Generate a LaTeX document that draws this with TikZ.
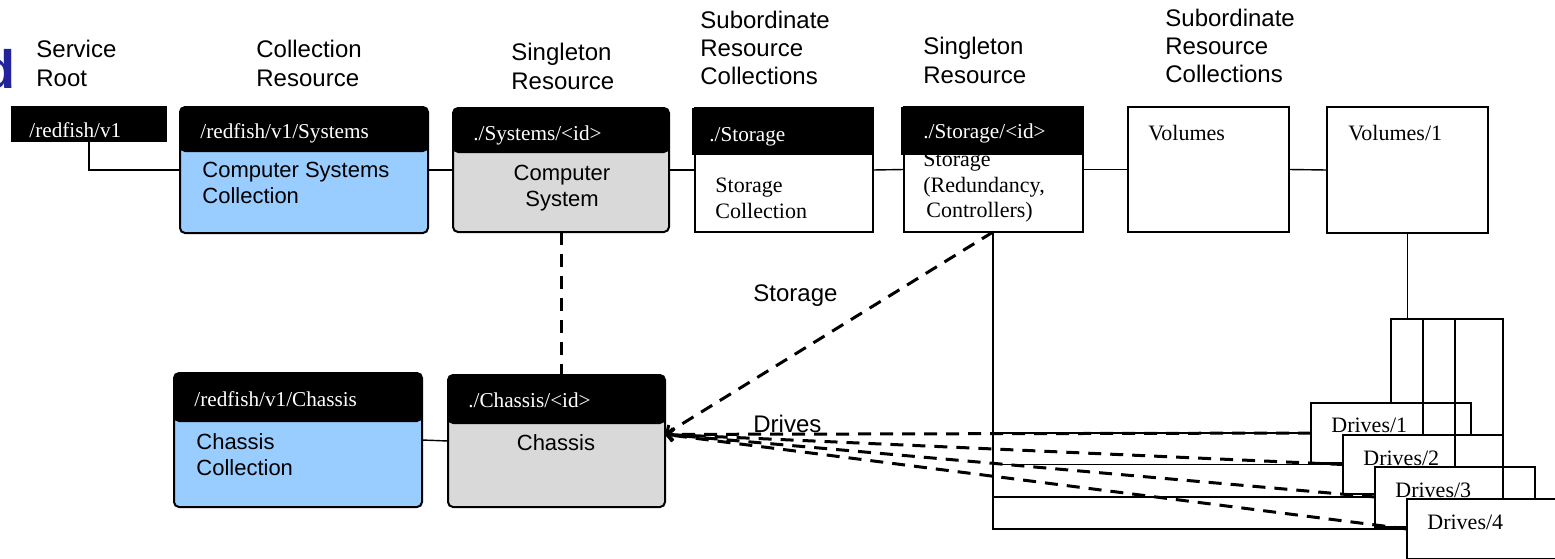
\documentclass[tikz,border=0pt]{standalone}
\usepackage{fontspec}
\setmainfont{Liberation Serif}
\setsansfont{Liberation Sans}
\usetikzlibrary{arrows.meta,calc}
\definecolor{collblue}{RGB}{153,204,255}
\definecolor{singgray}{RGB}{217,217,217}
\definecolor{logoblue}{RGB}{35,35,155}
\begin{document}
\begin{tikzpicture}[x=0.5pt,y=-0.5pt,
  lbl/.style={font=\sffamily\fontsize{12}{14.5}\selectfont, align=left, inner sep=0pt, anchor=north west},
  lbl3/.style={lbl, font=\sffamily\fontsize{12}{14}\selectfont},
  hdrtext/.style={font=\fontsize{10.6}{12}\selectfont, text=white, inner sep=0pt, anchor=north west},
  sbody/.style={font=\sffamily\fontsize{11}{13}\selectfont, align=left, inner sep=0pt, anchor=north west},
  rbody/.style={font=\fontsize{11}{12.7}\selectfont, align=left, inner sep=0pt, anchor=north west},
  boxbase/.style={draw, line width=1pt, anchor=north west, inner sep=0pt, outer sep=0pt},
  rbox/.style={boxbase, rounded corners=2.5pt},
  sbox/.style={boxbase, fill=white},
  hdrbar/.style={path picture={\fill[black] (path picture bounding box.north west) rectangle ([yshift=-#1]path picture bounding box.north east);}},
  link/.style={line width=0.7pt},
  dlink/.style={line width=1.5pt, dash pattern=on 6.5pt off 4.5pt},
  chtip/.style={-{Straight Barb[length=3pt,width=6pt]}}
]
\useasboundingbox (0,0) rectangle (1555,558);
\clip (0,0) rectangle (1555,558);

% logo fragment
\node[font=\sffamily\bfseries\fontsize{27}{27}\selectfont, text=logoblue, anchor=base east, inner sep=0pt] (logo) at (16,88) {d};

% column labels
\node[lbl] (l1) at (36,40) {Service\\Root};
\node[lbl] (l2) at (256,40) {Collection\\Resource};
\node[lbl] (l3) at (511,43) {Singleton\\Resource};
\node[lbl3] (l4) at (700,11) {Subordinate\\Resource\\Collections};
\node[lbl] (l5) at (923,37) {Singleton\\Resource};
\node[lbl3] (l6) at (1165,9) {Subordinate\\Resource\\Collections};

% boxes
\node[fill=black, anchor=north west, inner sep=0pt, outer sep=0pt, minimum width=78pt, minimum height=18pt] (root) at (11,106) {};
\node[rbox, fill=collblue, hdrbar=22.5pt, minimum width=124pt, minimum height=63pt] (sc) at (180,107) {};
\node[rbox, fill=singgray, hdrbar=22.5pt, minimum width=108pt, minimum height=62pt] (cs) at (453,108) {};
\node[sbox, minimum width=89pt, minimum height=62pt] (stc) at (695,108) {};
\fill[black] (692,108) rectangle (873,155);
\node[sbox, minimum width=89.5pt, minimum height=62.5pt] (sid) at (904,107) {};
\node[rbody] (sidtxt) at (923,152) {Storage\\(Redundancy,\\\hspace{1.5pt}Controllers)};
\fill[black] (901,107) rectangle (1083,155);
\node[sbox, minimum width=80.5pt, minimum height=62.5pt] (vol) at (1128,107) {};
\node[sbox, minimum width=80.5pt, minimum height=63pt] (v1) at (1327,107) {};
\node[rbox, fill=collblue, hdrbar=24.5pt, minimum width=124pt, minimum height=67pt] (cc) at (174,373) {};
\node[rbox, fill=singgray, hdrbar=24.5pt, minimum width=108.5pt, minimum height=66pt] (ch) at (448,375) {};

% header texts
\node[hdrtext] (h1) at (29,122) {/redfish/v1};
\node[hdrtext] (h2) at (200,123) {/redfish/v1/Systems};
\node[hdrtext] (h3) at (473,125) {./Systems/<id>};
\node[hdrtext] (h4) at (709,127) {./Storage};
\node[hdrtext] (h5) at (923,123) {./Storage/<id>};
\node[hdrtext] (h6) at (194,391) {/redfish/v1/Chassis};
\node[hdrtext] (h7) at (468,392) {./Chassis/<id>};

% body texts
\node[sbody] (b1) at (202,162) {Computer Systems\\Collection};
\node[sbody, align=center, anchor=north] (b2) at (562,165) {Computer\\System};
\node[rbody] (b3) at (715,178) {Storage\\Collection};
\node[rbody] (b4) at (1148,125) {Volumes};
\node[rbody] (b5) at (1348,125) {Volumes/1};
\node[sbody] (b6) at (196,433) {Chassis\\Collection};
\node[sbody, anchor=north] (b7) at (556,434) {Chassis};

% link labels
\node[lbl] (lst) at (753,284) {Storage};
\node[lbl] (ldr) at (753,415) {Drives};

% drives
\node[sbox, minimum width=80pt, minimum height=30pt] (d1) at (1311,403) {};
\node[rbody] (dt1) at (1331,418) {Drives/1};
\node[sbox, minimum width=80pt, minimum height=29.5pt] (d2) at (1343,435) {};
\node[rbody] (dt2) at (1363,451) {Drives/2};
\node[sbox, minimum width=80pt, minimum height=30pt] (d3) at (1375,467) {};
\node[rbody] (dt3) at (1395,483) {Drives/3};
\node[sbox, minimum width=96pt, minimum height=30pt] (d4) at (1407,499) {};
\node[rbody] (dt4) at (1427,515) {Drives/4};

% solid connectors
\draw[link] (root.south) |- (sc.west);
\draw[link] (sc.east) -- (cs.west);
\draw[link] (cs.east) -- (stc.west);
\draw[link] (stc.east) -- (sid.west);
\draw[link] (sid.east) -- (vol.west);
\draw[link] (vol.east) -- (v1.west);
\draw[link] (cc.east) -- (ch.west);

% storage tree
\coordinate (tap) at (993,232);
\draw[link] (tap) |- (d1.west);
\draw[link] (tap) |- (d2.west);
\draw[link] (tap) |- (d3.west);
\draw[link] (tap) |- (d4.west);

% volume fan
\coordinate (fb) at (v1.south |- 0,319);
\draw[link] (v1.south) -- (fb);
\draw[link] (fb) -| (d1.north);
\draw[link] (fb) -| (d2.north);
\draw[link] (fb) -| (d3.north);
\draw[link] (fb) -| (d4.north);

% dashed links
\draw[dlink] (cs.south) -- (cs.south |- ch.north);
\coordinate (chp) at ($(ch.north east)!0.45!(ch.south east)$);
\draw[dlink, chtip] (tap) -- (chp);
\draw[dlink, chtip] (d1.west) -- (chp);
\draw[dlink, chtip] (d2.west) -- (chp);
\draw[dlink, chtip] (d3.west) -- (chp);
\draw[dlink, chtip] (d4.west) -- (chp);
\end{tikzpicture}
\end{document}
